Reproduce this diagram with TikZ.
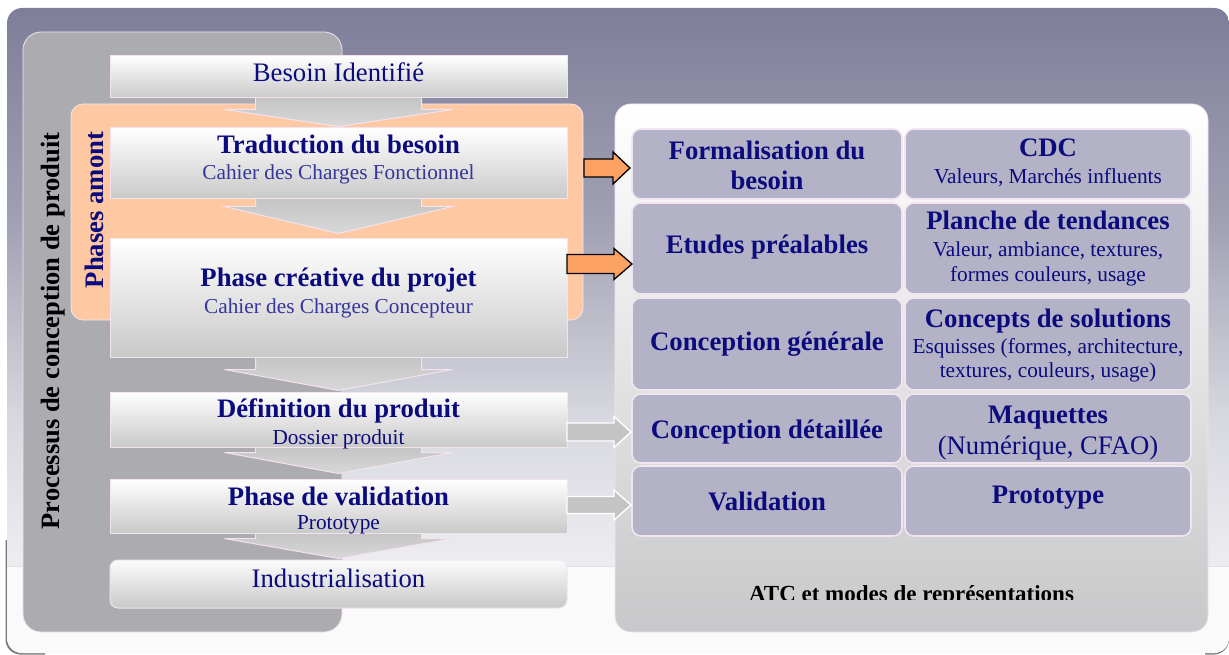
\documentclass[tikz,border=0pt]{standalone}
\usepackage{fontspec}
\setmainfont{Liberation Serif}
\usetikzlibrary{calc}
\definecolor{bgA}{HTML}{7E7E9A}
\definecolor{bgB}{HTML}{A0A0B4}
\definecolor{bgC}{HTML}{C0C0CC}
\definecolor{bgD}{HTML}{D8D8E0}
\definecolor{bgE}{HTML}{EDEDF1}
\definecolor{bglow}{HTML}{FAFAFA}
\definecolor{bgline}{HTML}{E0E0E4}
\definecolor{shadowgray}{HTML}{7A7A7A}
\definecolor{navy}{HTML}{0B0B7D}
\definecolor{subblue}{HTML}{35359A}
\definecolor{boxline}{HTML}{F3E3EF}
\definecolor{boxbot}{HTML}{C9C9C9}
\definecolor{cellfill}{HTML}{B3B2C6}
\definecolor{cellline}{HTML}{F2E4F0}
\definecolor{leftpanel}{HTML}{ACABB0}
\definecolor{orangepanel}{HTML}{FEC8A2}
\definecolor{orangearrow}{HTML}{FCA262}
\definecolor{grayarrow}{HTML}{C4C4C4}
\definecolor{arrtop}{HTML}{C4C4C4}
\definecolor{arrbot}{HTML}{D8D8D8}
\definecolor{rpbot}{HTML}{C8C8CA}
\definecolor{rpmid}{HTML}{F3F3F4}
\pgfdeclareverticalshading{bgshade}{100bp}{color(0bp)=(bgE); color(31.7bp)=(bgE); color(43bp)=(bgD); color(50bp)=(bgC); color(58.6bp)=(bgB); color(75bp)=(bgA); color(100bp)=(bgA)}
\tikzset{
  panelbox/.style={inner sep=0pt, line width=0.8pt},
  stepbox/.style={draw=boxline, line width=1pt, top color=white, bottom color=boxbot, minimum width=457pt, inner sep=0pt},
  cellbox/.style={draw=cellline, line width=1.6pt, fill=cellfill, rounded corners=9pt, inner sep=0pt},
  downarrow/.style={draw=boxline, line width=1pt, top color=arrtop, bottom color=arrbot},
  orangeblock/.style={draw=black, line width=1.3pt, fill=orangearrow, line join=miter},
  grayblock/.style={draw=white, line width=1.4pt, fill=grayarrow, line join=miter},
  ttl/.style={font=\fontsize{26.7}{30}\selectfont\bfseries, text=navy, anchor=base, inner sep=0pt},
  ttlr/.style={font=\fontsize{26.7}{30}\selectfont, text=navy, anchor=base, inner sep=0pt},
  sub/.style={font=\fontsize{21.3}{26}\selectfont, text=navy, anchor=base, inner sep=0pt},
  subl/.style={font=\fontsize{21.3}{26}\selectfont, text=subblue, anchor=base, inner sep=0pt},
}
\newcommand\downarr[4]{%
  \path[downarrow] let \p1=(#1.south), \p2=(#2.north) in
    ({\x1-83pt},{\y1+1pt}) -- ({\x1-83pt},{\y2+#3+#4}) -- ({\x1-114pt},{\y2+#3+#4})
    -- (\x1,{\y2+#3}) -- ({\x1+114pt},{\y2+#3+#4}) -- ({\x1+83pt},{\y2+#3+#4})
    -- ({\x1+83pt},{\y1+1pt}) -- cycle;}
\newcommand\sidearr[6]{%
  \path[#1] let \p1=(#2), \p2=(#3) in
    (\x1,{\y2+#4}) -- ({\x2-#6},{\y2+#4}) -- ({\x2-#6},{\y2+#5}) -- (\x2,\y2)
    -- ({\x2-#6},{\y2-#5}) -- ({\x2-#6},{\y2-#4}) -- (\x1,{\y2-#4}) -- cycle;}
\begin{document}
\begin{tikzpicture}[x=1pt,y=-1pt]
\useasboundingbox (0,0) rectangle (1229,655);
% background
\begin{scope}
  \clip (0,540) rectangle (45,655);
  \fill[shadowgray, rounded corners=15pt] (5.5,9.5) rectangle (1229,654.5);
\end{scope}
\begin{scope}
  \clip (1205,630) rectangle (1229,655);
  \fill[shadowgray, rounded corners=15pt] (5.5,9.5) rectangle (1229,654.5);
\end{scope}
\shade[shading=bgshade, rounded corners=15pt] (7,8) rectangle (1229,653);
\begin{scope}
  \clip (0,566) rectangle (1229,655);
  \fill[bglow, rounded corners=15pt] (7,8) rectangle (1229,653);
\end{scope}
\draw[bgline, line width=0.8pt] (7,566) -- (1229,566);

% panels
\node[panelbox, draw=boxline, fill=leftpanel, rounded corners=18pt, minimum width=319pt, minimum height=600pt] (proc) at (182.5,332) {};
\node[panelbox, draw=boxline, fill=orangepanel, rounded corners=12pt, minimum width=512pt, minimum height=216pt] (amont) at (327,212) {};
\node[panelbox, draw=boxline, top color=white, middle color=rpmid, bottom color=rpbot, rounded corners=16pt, minimum width=593pt, minimum height=528pt] (atc) at (911.5,368) {};

% step box positions
\node[stepbox, minimum height=42pt, opacity=0] (besoin) at (338.5,77) {};
\node[stepbox, minimum height=71pt, opacity=0] (trad) at (338.5,163.5) {};
\node[stepbox, minimum height=118pt, opacity=0] (crea) at (338.5,298) {};
\node[stepbox, minimum height=55pt, opacity=0] (def) at (338.5,419.5) {};
\node[stepbox, minimum height=54pt, opacity=0] (val) at (338.5,506) {};
\node[stepbox, minimum height=48pt, rounded corners=8pt, opacity=0] (indus) at (338.5,584) {};

% down arrows between steps
\downarr{besoin}{trad}{1pt}{17pt}
\downarr{trad}{crea}{5pt}{27pt}
\downarr{crea}{def}{1pt}{21pt}
\downarr{def}{val}{5pt}{21pt}
\downarr{val}{indus}{1pt}{20pt}

% visible step boxes
\node[stepbox, minimum height=42pt] (besoinbox) at (besoin) {};
\node[stepbox, minimum height=71pt] (tradbox) at (trad) {};
\node[stepbox, minimum height=118pt] (creabox) at (crea) {};
\node[stepbox, minimum height=55pt] (defbox) at (def) {};
\node[stepbox, minimum height=54pt] (valbox) at (val) {};
\node[stepbox, minimum height=48pt, rounded corners=8pt, top color=white!97!gray] (indusbox) at (indus) {};

% step texts
\node[ttlr] (besoinT) at (338.5,82) {Besoin Identifié};
\node[ttl] (tradT) at (338.5,154) {Traduction du besoin};
\node[subl] (tradS) at (338.5,180) {Cahier des Charges Fonctionnel};
\node[ttl] (creaT) at (338.5,287) {Phase créative du projet};
\node[subl] (creaS) at (338.5,313) {Cahier des Charges Concepteur};
\node[ttl] (defT) at (338.5,417) {Définition du produit};
\node[sub] (defS) at (338.5,444) {Dossier produit};
\node[ttl] (valT) at (338.5,505) {Phase de validation};
\node[sub] (valS) at (338.5,529) {Prototype};
\node[ttlr] (indusT) at (338.5,587) {Industrialisation};

% side labels
\node[ttl, text=black, rotate=90, font=\fontsize{26.5}{30}\selectfont\bfseries] (procT) at (59,331) {Processus de conception de produit};
\node[ttl, rotate=90] (amontT) at (103,210) {Phases amont};

% cells
\node[cellbox, minimum width=270pt, minimum height=70pt] (c1l) at (767,164) {};
\node[cellbox, minimum width=286pt, minimum height=70pt] (c1r) at (1048,164) {};
\node[cellbox, minimum width=270pt, minimum height=91pt] (c2l) at (767,248.5) {};
\node[cellbox, minimum width=286pt, minimum height=91pt] (c2r) at (1048,248.5) {};
\node[cellbox, minimum width=270pt, minimum height=92pt] (c3l) at (767,344) {};
\node[cellbox, minimum width=286pt, minimum height=92pt] (c3r) at (1048,344) {};
\node[cellbox, minimum width=270pt, minimum height=69pt] (c4l) at (767,428.5) {};
\node[cellbox, minimum width=286pt, minimum height=69pt] (c4r) at (1048,428.5) {};
\node[cellbox, minimum width=270pt, minimum height=70pt] (c5l) at (767,501) {};
\node[cellbox, minimum width=286pt, minimum height=70pt] (c5r) at (1048,501) {};

% cell texts
\node[ttl] (c1lA) at (767,160) {Formalisation du};
\node[ttl] (c1lB) at (767,190) {besoin};
\node[ttl] (c1rA) at (1048,157) {CDC};
\node[sub] (c1rB) at (1048,184) {Valeurs, Marchés influents};
\node[ttl] (c2lA) at (767,254) {Etudes préalables};
\node[ttl] (c2rA) at (1048,230) {Planche de tendances};
\node[sub] (c2rB) at (1048,257) {Valeur, ambiance, textures,};
\node[sub] (c2rC) at (1048,281) {formes couleurs, usage};
\node[ttl] (c3lA) at (767,350) {Conception générale};
\node[ttl] (c3rA) at (1048,327) {Concepts de solutions};
\node[sub] (c3rB) at (1048,353) {Esquisses (formes, architecture,};
\node[sub] (c3rC) at (1048,377) {textures, couleurs, usage)};
\node[ttl] (c4lA) at (767,438) {Conception détaillée};
\node[ttl] (c4rA) at (1048,423) {Maquettes};
\node[ttlr] (c4rB) at (1048,454) {(Numérique, CFAO)};
\node[ttl] (c5lA) at (767,510) {Validation};
\node[ttl] (c5rA) at (1048,503) {Prototype};

% panel caption (cut at the bottom as in the original)
\begin{scope}
  \clip (615,560) rectangle (1208,599);
  \node[ttl, text=black, font=\fontsize{23}{26}\selectfont\bfseries] (atcT) at (911.5,601) {ATC et modes de représentations};
\end{scope}

% side block arrows
\coordinate (oa1s) at (584,168);  \coordinate (oa1t) at (630,168);
\coordinate (oa2s) at (567,264);  \coordinate (oa2t) at (632,264);
\coordinate (ga1s) at (567,432);  \coordinate (ga1t) at (631,432);
\coordinate (ga2s) at (567,505);  \coordinate (ga2t) at (631,505);
\sidearr{orangeblock}{oa1s}{oa1t}{9pt}{16pt}{17pt}
\sidearr{orangeblock}{oa2s}{oa2t}{9.5pt}{15.5pt}{18pt}
\sidearr{grayblock}{ga1s}{ga1t}{9pt}{15.5pt}{17pt}
\sidearr{grayblock}{ga2s}{ga2t}{8.5pt}{15pt}{17pt}
\end{tikzpicture}
\end{document}
